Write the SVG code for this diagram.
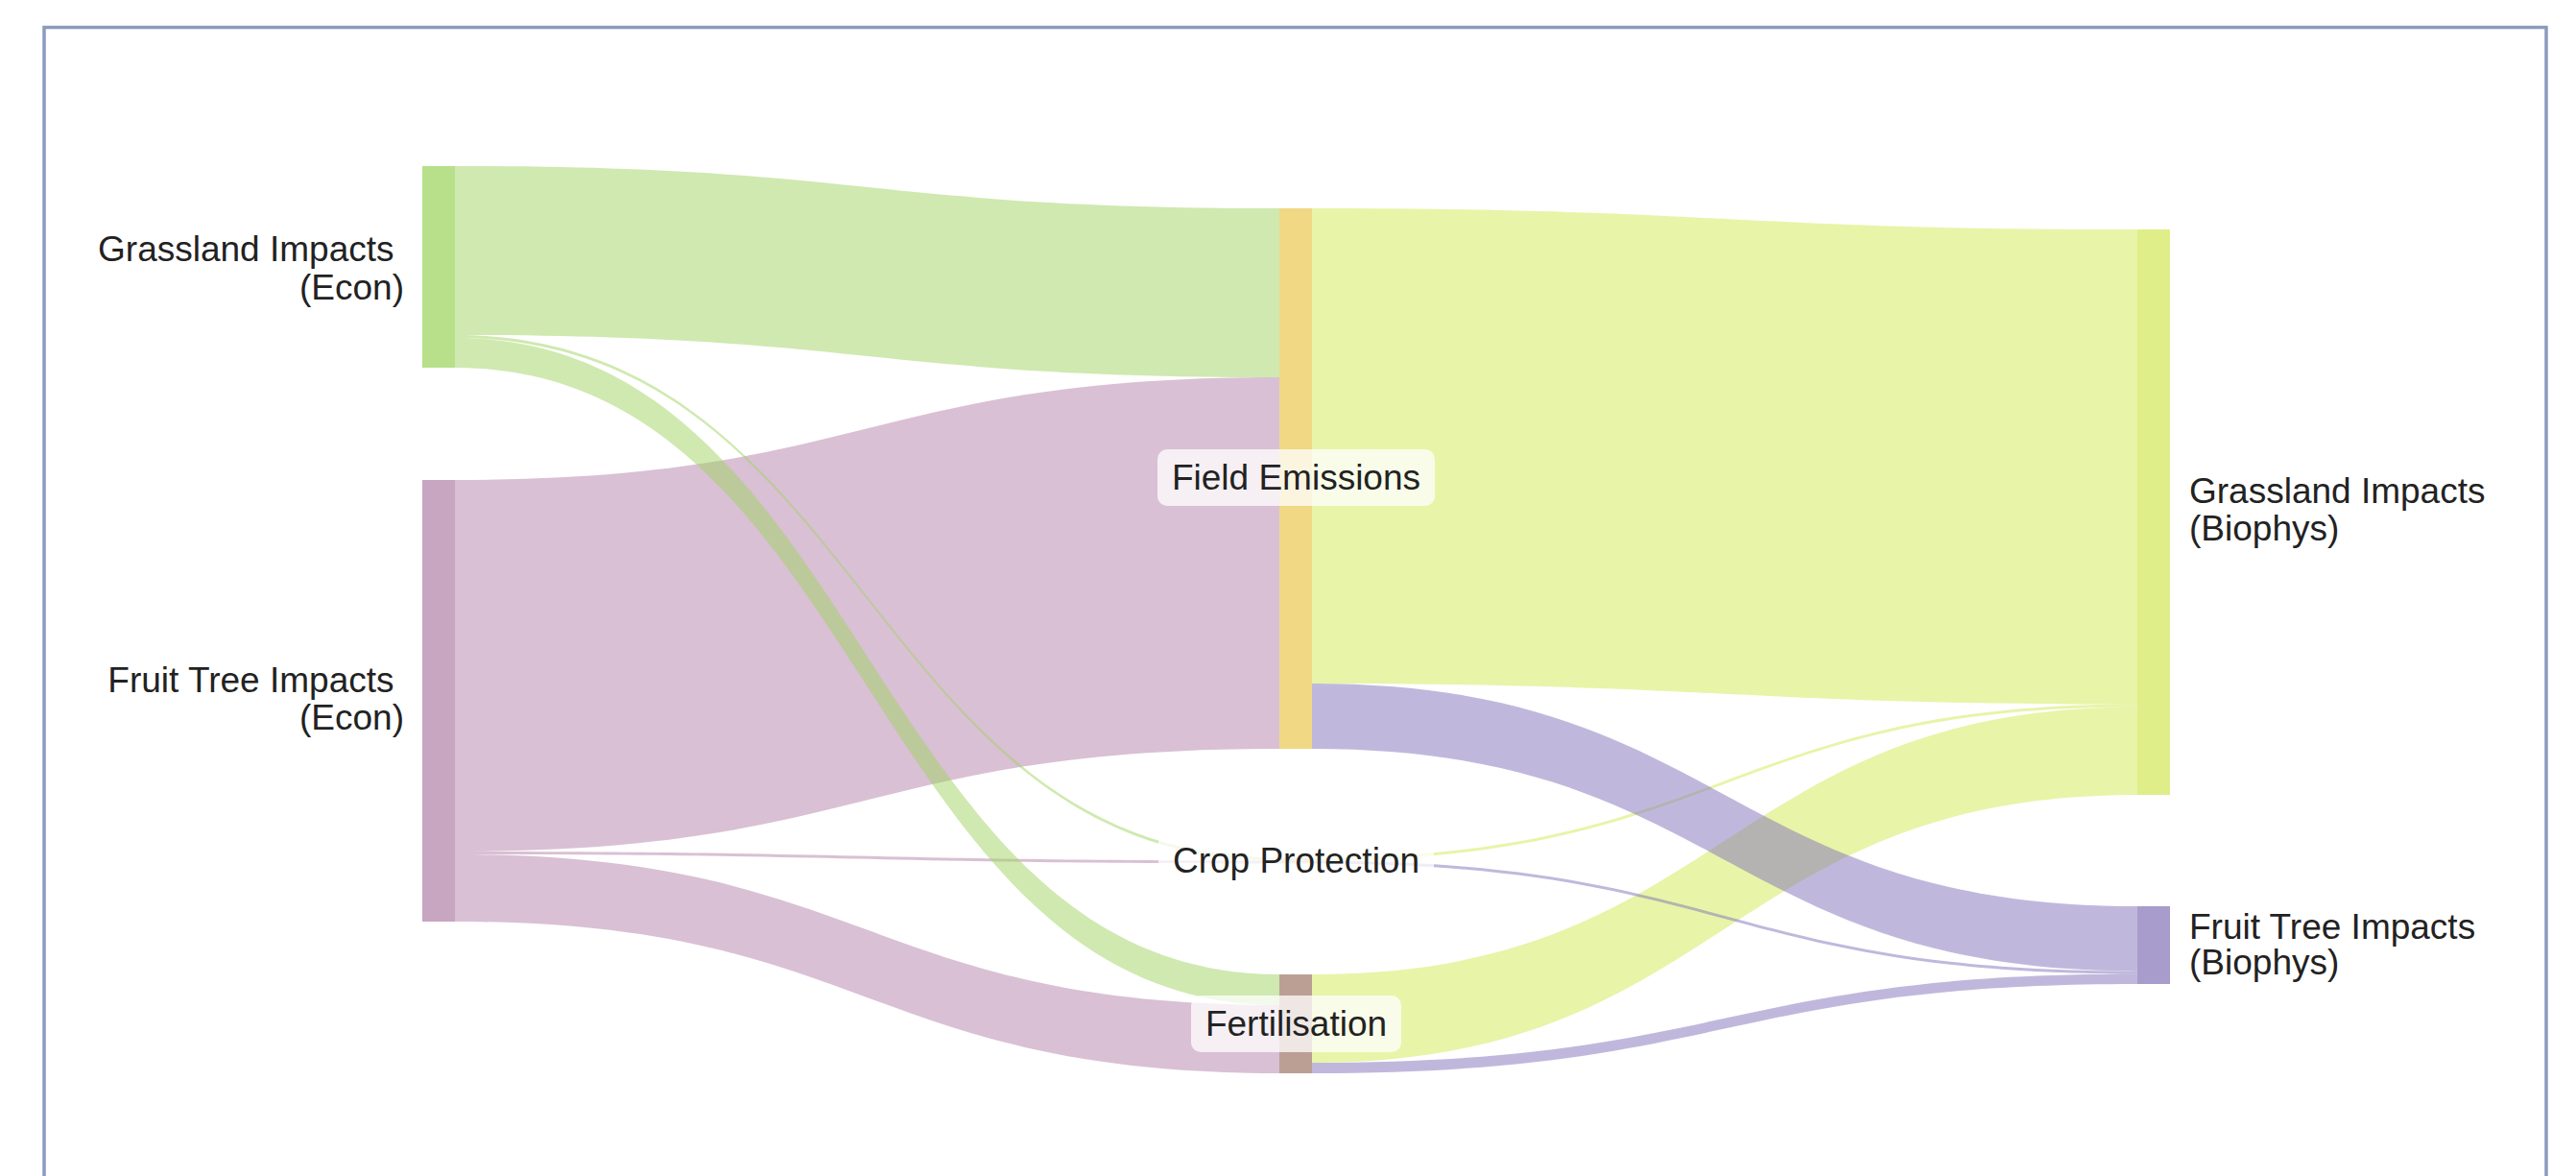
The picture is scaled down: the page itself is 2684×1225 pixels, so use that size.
<svg xmlns="http://www.w3.org/2000/svg" width="2684" height="1225" viewBox="0 0 2684 1225">
  <style>
    .lbl { font-family: "Liberation Sans", Arial, sans-serif; font-size: 37px; fill: #222222; }
    .end { text-anchor: end; }
    .mid { text-anchor: middle; }
    .box { fill: #ffffff; fill-opacity: 0.75; }
    .lg { fill: #9fd361; fill-opacity: 0.5; }
    .lp { fill: #b381a9; fill-opacity: 0.5; }
    .ly { fill: #d1e951; fill-opacity: 0.5; }
    .lb { fill: #8171b9; fill-opacity: 0.5; }
  </style>
  <rect x="0" y="0" width="2684" height="1225" fill="#ffffff"/>
  <rect id="frame" x="46" y="28.5" width="2607" height="1300" fill="none" stroke="#8a9cbc" stroke-width="3.5"/>

  <g id="connectors">
    <!-- Fruit Tree Impacts (Econ) links -->
    <path id="l-fte-fe" class="lp" d="M474,500 C903.5,500 903.5,393 1333,393 L1333,780 C903.5,780 903.5,887 474,887 Z"/>
    <path id="l-fte-cp" class="lp" d="M474,887 C903.5,887 903.5,896.5 1333,896.5 L1333,899.5 C903.5,899.5 903.5,890 474,890 Z"/>
    <path id="l-fte-fert" class="lp" d="M474,890 C903.5,890 903.5,1047 1333,1047 L1333,1118 C903.5,1118 903.5,960 474,960 Z"/>
    <!-- Grassland Impacts (Econ) links -->
    <path id="l-ge-fe" class="lg" d="M474,173 C903.5,173 903.5,217 1333,217 L1333,393 C903.5,393 903.5,349 474,349 Z"/>
    <path id="l-ge-cp" class="lg" d="M474,349 C903.5,349 903.5,893.5 1333,893.5 L1333,896.5 C903.5,896.5 903.5,352 474,352 Z"/>
    <path id="l-ge-fert" class="lg" d="M474,352 C903.5,352 903.5,1015 1333,1015 L1333,1047 C903.5,1047 903.5,383 474,383 Z"/>
    <!-- to Grassland Impacts (Biophys) -->
    <path id="l-fert-gb" class="ly" d="M1367,1015 C1797,1015 1797,736.5 2227,736.5 L2227,828 C1797,828 1797,1107 1367,1107 Z"/>
    <path id="l-cp-gb" class="ly" d="M1367,893.5 C1797,893.5 1797,733.5 2227,733.5 L2227,736.5 C1797,736.5 1797,896.5 1367,896.5 Z"/>
    <path id="l-fe-gb" class="ly" d="M1367,217 C1797,217 1797,239 2227,239 L2227,733.5 C1797,733.5 1797,712 1367,712 Z"/>
    <!-- to Fruit Tree Impacts (Biophys) -->
    <path id="l-fe-ftb" class="lb" d="M1367,712 C1797,712 1797,944 2227,944 L2227,1011.5 C1797,1011.5 1797,780 1367,780 Z"/>
    <path id="l-cp-ftb" class="lb" d="M1367,896.5 C1797,896.5 1797,1011.5 2227,1011.5 L2227,1014.5 C1797,1014.5 1797,899.5 1367,899.5 Z"/>
    <path id="l-fert-ftb" class="lb" d="M1367,1107 C1797,1107 1797,1014.5 2227,1014.5 L2227,1025 C1797,1025 1797,1118 1367,1118 Z"/>
  </g>

  <g id="node-grassland-econ">
    <rect x="440" y="173" width="34" height="210" fill="#b8df8a"/>
    <text class="lbl end" x="410.5" y="272">Grassland Impacts</text>
    <text class="lbl end" x="421" y="312">(Econ)</text>
  </g>
  <g id="node-fruittree-econ">
    <rect x="440" y="500" width="34" height="460" fill="#c8a5c0"/>
    <text class="lbl end" x="410.5" y="721">Fruit Tree Impacts</text>
    <text class="lbl end" x="421" y="760">(Econ)</text>
  </g>
  <g id="node-field-emissions">
    <rect x="1333" y="217" width="34" height="563" fill="#f0d884"/>
    <rect class="box" x="1206" y="468" width="289" height="59" rx="10" ry="10"/>
    <text class="lbl mid" x="1350.5" y="510">Field Emissions</text>
  </g>
  <g id="node-crop-protection">
    <rect x="1333" y="893.5" width="34" height="6" fill="#d9c79a"/>
    <rect class="box" x="1207" y="867" width="287" height="59" rx="10" ry="10"/>
    <text class="lbl mid" x="1350.5" y="909">Crop Protection</text>
  </g>
  <g id="node-fertilisation">
    <rect x="1333" y="1015" width="34" height="103" fill="#bc9f94"/>
    <rect class="box" x="1241" y="1037" width="219" height="59" rx="10" ry="10"/>
    <text class="lbl mid" x="1350.5" y="1079">Fertilisation</text>
  </g>
  <g id="node-grassland-biophys">
    <rect x="2227" y="239" width="34" height="589" fill="#dfee88"/>
    <text class="lbl" x="2281" y="524">Grassland Impacts</text>
    <text class="lbl" x="2281" y="563">(Biophys)</text>
  </g>
  <g id="node-fruittree-biophys">
    <rect x="2227" y="944" width="34" height="81" fill="#a89ccc"/>
    <text class="lbl" x="2281" y="978">Fruit Tree Impacts</text>
    <text class="lbl" x="2281" y="1015">(Biophys)</text>
  </g>
</svg>
